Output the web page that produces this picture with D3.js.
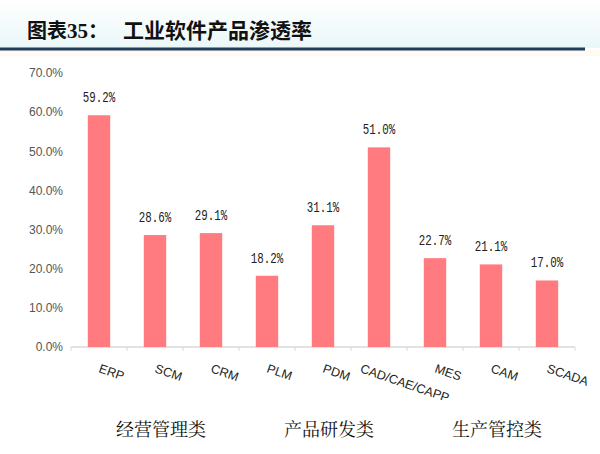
<!DOCTYPE html>
<html><head><meta charset="utf-8">
<script src="https://cdn.jsdelivr.net/npm/d3@7"></script>
<style>html,body{margin:0;padding:0;background:#fff;}svg{display:block;}</style>
</head><body>
<svg id="chart" width="600" height="454"></svg>
<script>
const categories = ["ERP","SCM","CRM","PLM","PDM","CAD/CAE/CAPP","MES","CAM","SCADA"];
const values = [59.2, 28.6, 29.1, 18.2, 31.1, 51.0, 22.7, 21.1, 17.0];
const valueLabels = ["59.2%","28.6%","29.1%","18.2%","31.1%","51.0%","22.7%","21.1%","17.0%"];
const yTicks = [0,10,20,30,40,50,60,70];
const groups = ["经营管理类","产品研发类","生产管控类"];
const groupMembers = [["ERP","SCM","CRM"],["PLM","PDM","CAD/CAE/CAPP"],["MES","CAM","SCADA"]];
const titleLeft = "图表35：";
const titleRight = "工业软件产品渗透率";

const svg = d3.select("#chart");
const defs = svg.append("defs");
const g1 = defs.append("linearGradient").attr("id","hdr").attr("x1",0).attr("y1",0).attr("x2",0).attr("y2",1);
g1.append("stop").attr("offset","0%").attr("stop-color","#ffffff");
g1.append("stop").attr("offset","100%").attr("stop-color","#eaf7f9");
svg.append("rect").attr("x",0).attr("y",0).attr("width",600).attr("height",48).attr("fill","url(#hdr)");
svg.append("rect").attr("x",0).attr("y",50).attr("width",600).attr("height",6).attr("fill","#fffaf2");

// Title
const t = svg.append("text").attr("x",27).attr("y",38).attr("font-size",20).attr("font-weight","bold").attr("fill","#111");
t.append("tspan").attr("font-family","'Noto Sans CJK SC',sans-serif").text("图表");
t.append("tspan").attr("font-family","'Liberation Serif',serif").attr("font-size",21).text("35");
t.append("tspan").attr("font-family","'Noto Sans CJK SC',sans-serif").text("：");
svg.append("text").attr("x",123).attr("y",38).attr("font-size",21).attr("font-weight","bold").attr("fill","#111")
  .attr("font-family","'Noto Sans CJK SC',sans-serif").text(titleRight);
svg.append("line").attr("x1",0).attr("x2",585).attr("y1",49).attr("y2",49).attr("stroke","#1f3d5c").attr("stroke-width",3);

const x = d3.scaleBand().domain(categories).range([71,575]).paddingInner(0.6).paddingOuter(0.3);
const y = d3.scaleLinear().domain([0,70]).range([347,73]);

// Y axis labels
const yAxis = d3.axisLeft(y).tickValues(yTicks).tickSize(0).tickPadding(0).tickFormat(v => v.toFixed(1) + "%");
const ya = svg.append("g").attr("transform","translate(63,0)").call(yAxis);
ya.select(".domain").remove();
ya.selectAll("text").attr("font-family","'Liberation Sans',Arial,sans-serif").attr("font-size",12).attr("fill","#555");

// X baseline with ticks
const xa = svg.append("g").attr("transform","translate(0,347)");
xa.append("line").attr("x1",71).attr("x2",575).attr("stroke","#d9d9d9").attr("stroke-width",1.5);
const bounds = categories.map(c => x(c) - x.step()*x.paddingInner()/2).concat([575]);
xa.selectAll("line.tk").data(bounds).join("line").attr("class","tk")
  .attr("x1",d=>d).attr("x2",d=>d).attr("y1",0).attr("y2",4).attr("stroke","#d9d9d9");

// Bars
svg.selectAll("rect.bar").data(values).join("rect").attr("class","bar")
  .attr("x",(d,i)=>x(categories[i])).attr("width",x.bandwidth())
  .attr("y",d=>y(d)).attr("height",d=>y(0)-y(d)).attr("fill","#ff7b7f");

// Value labels (narrow monospace look)
svg.selectAll("text.val").data(values).join("text").attr("class","val")
  .attr("transform",(d,i)=>`translate(${x(categories[i])+x.bandwidth()/2},${y(d)-13}) scale(0.72,1)`)
  .attr("text-anchor","middle").attr("font-family","'Liberation Mono',monospace").attr("font-size",15)
  .attr("fill","#222").text((d,i)=>valueLabels[i]);

// Category labels (rotated)
const cl = svg.selectAll("text.cat").data(categories).join("text").attr("class","cat")
  .attr("font-family","'Liberation Sans',Arial,sans-serif").attr("font-size",12.5).attr("fill","#222")
  .text(d=>d);
cl.each(function(d){
  const w = this.getComputedTextLength();
  const shift = Math.max(0,(w - x.step())/2);
  const cx = x(d) + x.bandwidth()/2 - 1 - shift;
  d3.select(this).attr("transform",`translate(${cx},372) rotate(19)`);
});

// Group labels
svg.selectAll("text.grp").data(groups).join("text").attr("class","grp")
  .attr("x",(d,i)=>x(groupMembers[i][1]) + x.bandwidth()/2 + 6).attr("y",436)
  .attr("text-anchor","middle").attr("font-family","'Noto Serif CJK SC','Noto Sans CJK SC',serif")
  .attr("font-size",18).attr("fill","#111").text(d=>d);
</script>
</body></html>
